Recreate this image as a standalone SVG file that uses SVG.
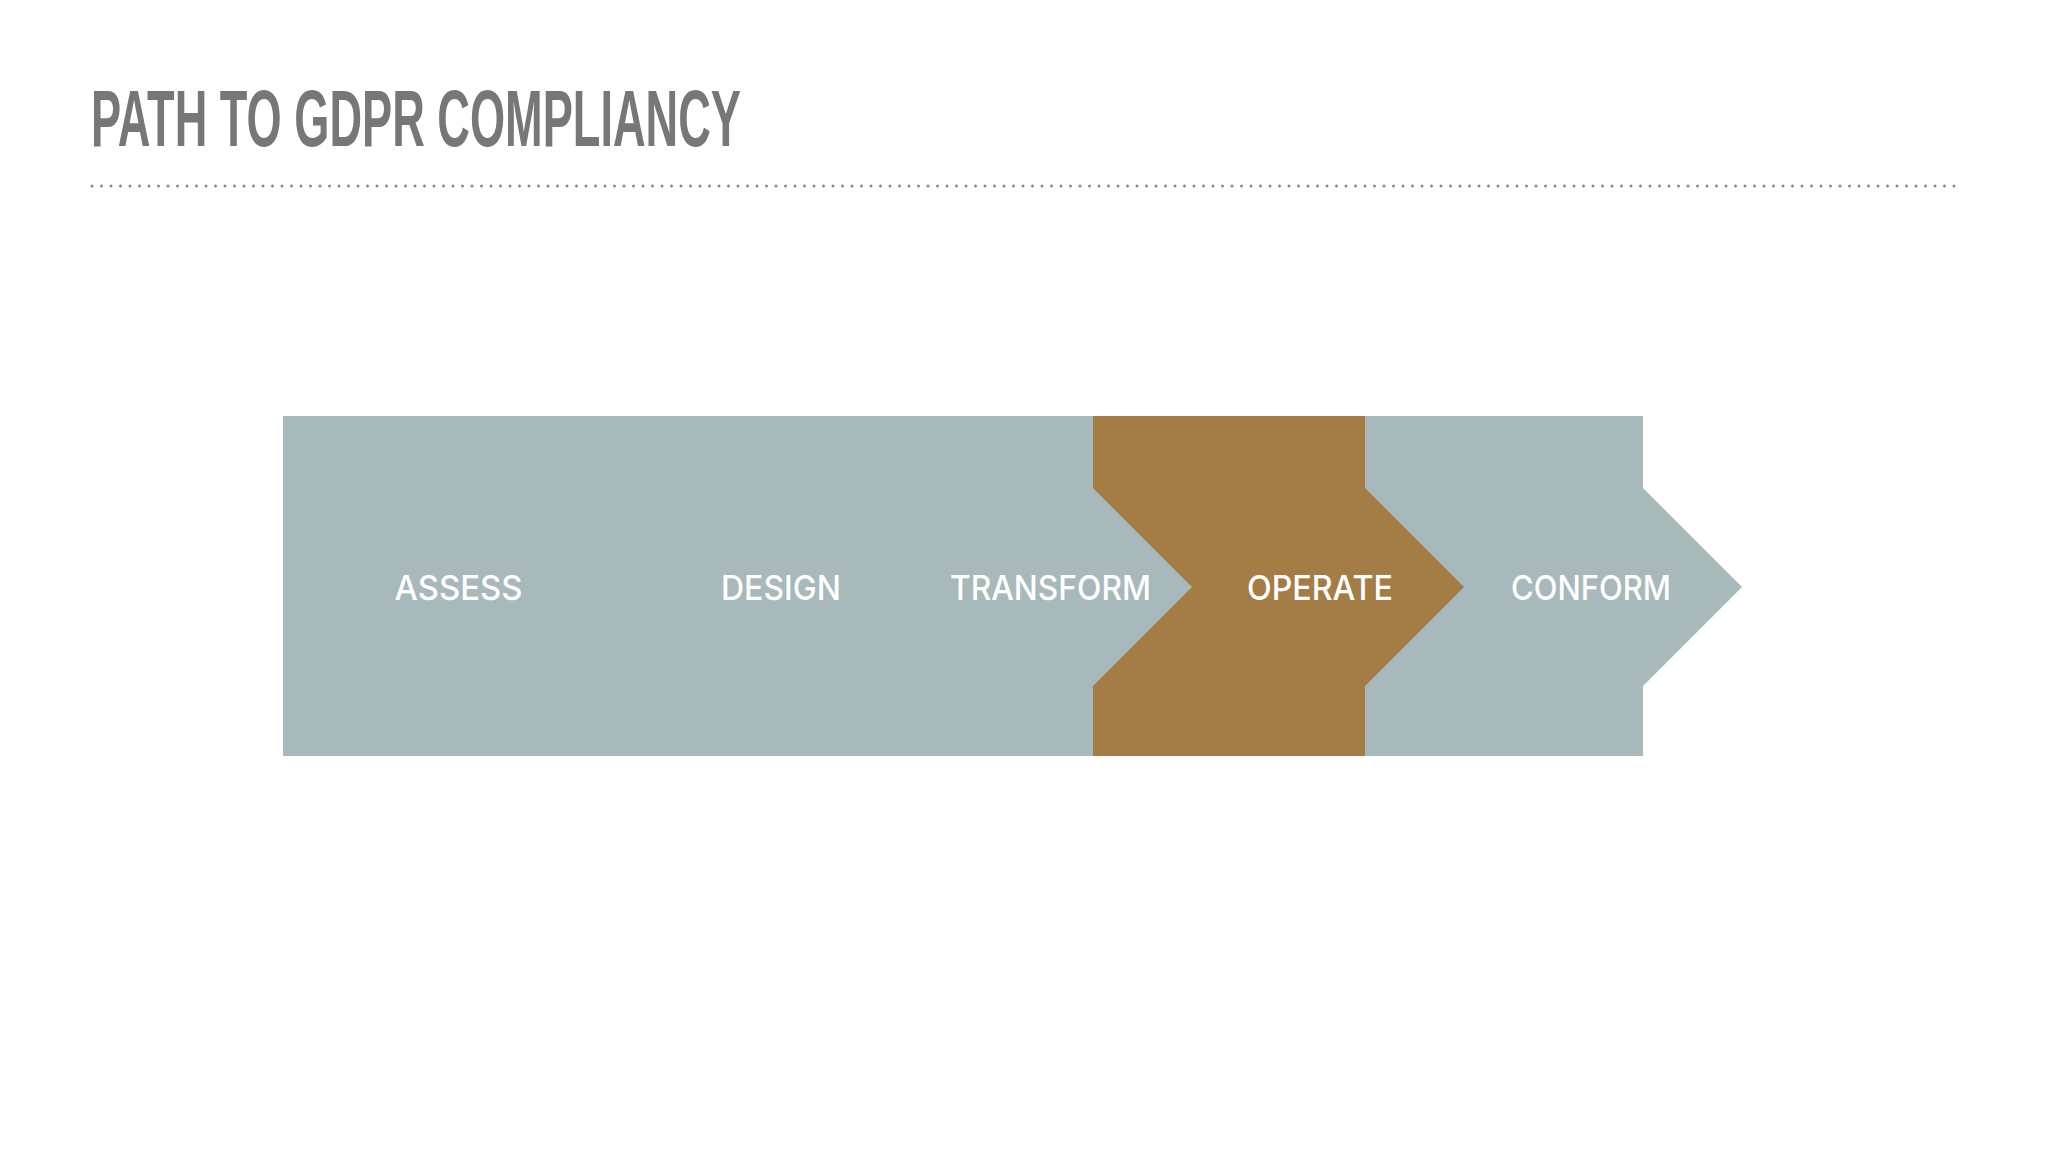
<svg xmlns="http://www.w3.org/2000/svg" width="2048" height="1152" viewBox="0 0 2048 1152">
  <style>
    .title { font-family: "Liberation Sans Narrow", "Liberation Sans", Arial, sans-serif; font-weight: bold; font-size: 80px; fill: #777777; }
    .label { font-family: Inter, "Liberation Sans", Arial, sans-serif; font-weight: 500; font-size: 34px; fill: #ffffff; text-anchor: middle; }
    .grey { fill: #a7b9ba; }
    .brown { fill: #a37d45; }
  </style>
  <rect width="2048" height="1152" fill="#ffffff"/>
  <text class="title" x="91" y="146" textLength="650" lengthAdjust="spacingAndGlyphs">PATH TO GDPR COMPLIANCY</text>
  <line x1="92" y1="186" x2="1962" y2="186" stroke="#888888" stroke-width="3" stroke-linecap="round" stroke-dasharray="0 9.5"/>
  <g id="band">
    <polygon class="grey" points="283,416 1643,416 1643,488 1742,587 1643,686 1643,756 283,756"/>
  </g>
  <g id="operate-shape">
    <polygon class="brown" points="1093,416 1365,416 1365,488 1464,587 1365,686 1365,756 1093,756 1093,686 1192,587 1093,488"/>
  </g>
  <g id="assess"><text class="label" x="458.5" y="600" textLength="128" lengthAdjust="spacingAndGlyphs">ASSESS</text></g>
  <g id="design"><text class="label" x="781" y="600" textLength="120" lengthAdjust="spacingAndGlyphs">DESIGN</text></g>
  <g id="transform"><text class="label" x="1050.5" y="600" textLength="201" lengthAdjust="spacingAndGlyphs">TRANSFORM</text></g>
  <g id="operate"><text class="label" x="1320" y="600" textLength="146" lengthAdjust="spacingAndGlyphs">OPERATE</text></g>
  <g id="conform"><text class="label" x="1591" y="600" textLength="160" lengthAdjust="spacingAndGlyphs">CONFORM</text></g>
  <g id="connectors"/>
</svg>
